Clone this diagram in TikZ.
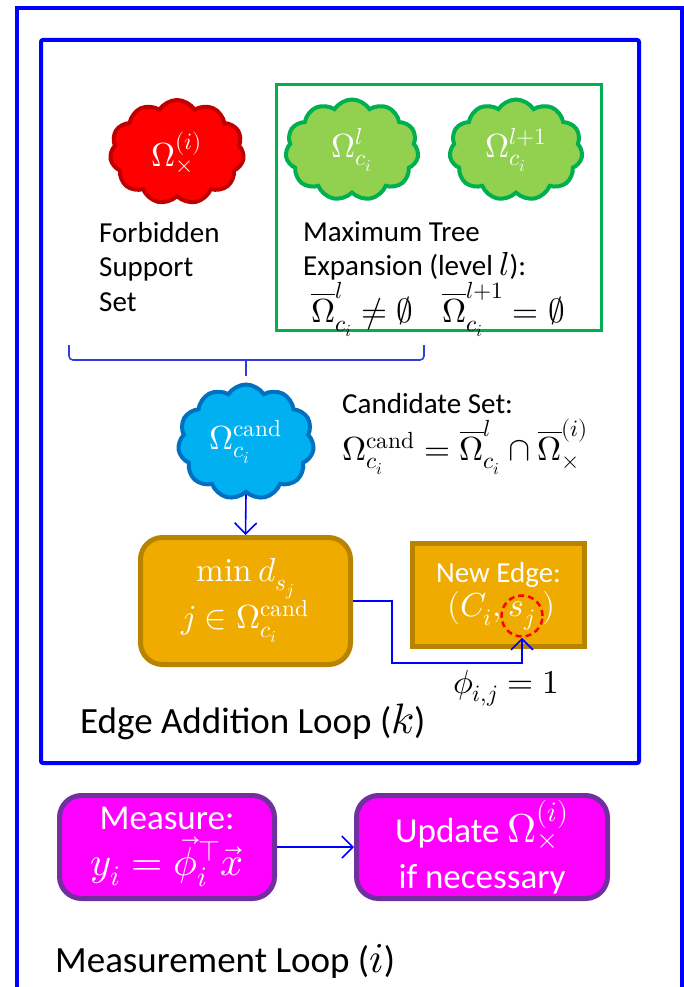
\documentclass[tikz,border=0pt]{standalone}
\usepackage{fontspec}
\usepackage{unicode-math}
\setmainfont{Carlito}
\setmathfont{Latin Modern Math}[Scale=1.15]
\usetikzlibrary{shapes.symbols,arrows.meta,calc}
\definecolor{frameblue}{RGB}{0,0,255}
\definecolor{bracecol}{RGB}{50,60,220}
\definecolor{grnline}{RGB}{0,176,80}
\definecolor{grnfill}{RGB}{146,208,80}
\definecolor{redline}{RGB}{192,0,0}
\definecolor{bluefill}{RGB}{0,176,240}
\definecolor{blueline}{RGB}{0,112,192}
\definecolor{orfill}{RGB}{240,171,0}
\definecolor{orline}{RGB}{184,132,0}
\definecolor{mgfill}{RGB}{255,0,255}
\definecolor{mgline}{RGB}{112,48,160}
\newcommand{\candsup}{\symup{cand}}
\begin{document}
\begin{tikzpicture}[x=1pt,y=-1pt,
  smalltxt/.style={font=\fontsize{29}{34.5}\selectfont, inner sep=0pt},
  bigtxt/.style={font=\fontsize{37}{42}\selectfont, inner sep=0pt},
  cloudbase/.style={cloud, cloud puffs=11, cloud puff arc=115, line width=4pt,
     inner sep=0pt, text=white, font=\fontsize{29}{34.5}\selectfont},
  redcloud/.style={cloudbase, fill=red, draw=redline, minimum width=134pt, minimum height=104pt},
  greencloud/.style={cloudbase, fill=grnfill, draw=grnline, minimum width=133pt, minimum height=101pt},
  bluecloud/.style={cloudbase, fill=bluefill, draw=blueline, minimum width=136pt, minimum height=108pt},
  orbox/.style={draw=orline, fill=orfill, line width=5pt, text=white, align=center, inner sep=0pt},
  whitetxt/.style={text=white, inner sep=0pt, font=\fontsize{29}{34.5}\selectfont},
  mgbox/.style={draw=mgline, fill=mgfill, line width=5pt, text=white, align=center, inner sep=0pt,
     rounded corners=22pt, font=\fontsize{35}{46}\selectfont},
  conn/.style={draw=frameblue, line width=1.6pt, -{Straight Barb[length=11pt,width=22pt,line width=1.6pt]}},
  redcirc/.style={circle, draw=red, dashed, dash pattern=on 6pt off 4pt, line width=2.5pt, minimum size=41pt, inner sep=0pt}
]
\useasboundingbox (0,0) rectangle (684,987);
% frames
\draw[frameblue, line width=4pt] (17,1000) -- (17,8) -- (682,8) -- (682,1000);
\draw[frameblue, line width=4pt, rounded corners=2pt] (41,40) rectangle (639,763);
\draw[grnline, line width=3pt] (276,85) rectangle (601,330);
% clouds
\node[redcloud] (forb) at (177,152) {$\Omega^{(i)}_{\times}$};
\node[greencloud] (lev) at (352,150) {$\Omega^{l}_{c_i}$};
\node[greencloud] (levnext) at (516,150) {$\Omega^{l+1}_{c_i}$};
% labels
\node[smalltxt, anchor=north west, align=left] (forbtxt) at (99,222) {Forbidden\\Support\\Set};
\node[smalltxt, anchor=north west, align=left] (mtetxt) at (303,221)
  {Maximum Tree\\Expansion (level $l$):\\[1pt]\hspace{8pt}$\overline{\Omega}^{l}_{c_i}\neq\emptyset\quad\overline{\Omega}^{l+1}_{c_i}=\emptyset$};
% brace
\draw[bracecol, line width=1.6pt, rounded corners=4pt] (69,345) -- (69,360) -- (424,360) -- (424,345);
\coordinate (bracetip) at (246,376);
\draw[bracecol, line width=1.6pt] (246,360) -- (bracetip);
% candidate
\node[bluecloud] (cand) at (246,442) {$\Omega^{\candsup}_{c_i}$};
\node[smalltxt, anchor=north west, align=left] (candtxt) at (342,393)
  {Candidate Set:\\[4pt]$\Omega^{\candsup}_{c_i}=\overline{\Omega}^{l}_{c_i}\cap\overline{\Omega}^{(i)}_{\times}$};
% boxes
\node[orbox, rounded corners=22pt, minimum width=210pt, minimum height=127pt,
      font=\fontsize{29}{47}\selectfont] (minbox) at (245.5,601)
  {$\mathop{\symup{min}}\nolimits d_{s_j}$\\$j\in\Omega^{\candsup}_{c_i}$};
\draw[conn] (cand.south) -- (minbox.north);
\node[orbox, minimum width=172pt, minimum height=103pt] (edge) at (498.5,595) {};
\node[whitetxt, anchor=base] (edgetitle) at (498.5,582) {New Edge:};
\node[redcirc, whitetxt] (sj) at (522,616) {$s_j$};
\node[whitetxt, anchor=base east] (ci) at ($(sj.base)+(-20,0)$) {$(C_i,$};
\node[whitetxt, anchor=base west] (rp) at ($(sj.base)+(20,0)$) {$)$};
\coordinate (elbow) at (522,663);
\draw[conn] (minbox.east) -- ++(39,0) |- (elbow) -- (sj.south);
\node[smalltxt, anchor=base] (phi) at (506,693) {$\phi_{i,j}=1$};
\node[bigtxt, anchor=base west] (eal) at (80,733) {Edge Addition Loop ($k$)};
% measurement
\node[mgbox, minimum width=215pt, minimum height=103pt] (meas) at (167,847)
  {Measure:\\$y_i=\vec{\phi}_i^{\top}\vec{x}$};
\node[mgbox, minimum width=251pt, minimum height=103pt] (upd) at (482,847)
  {Update $\Omega^{(i)}_{\times}$\\if necessary};
\draw[conn] (meas.east) -- (upd.west);
\node[bigtxt, anchor=base west] (mloop) at (55,972) {Measurement Loop ($i$)};
\end{tikzpicture}
\end{document}
